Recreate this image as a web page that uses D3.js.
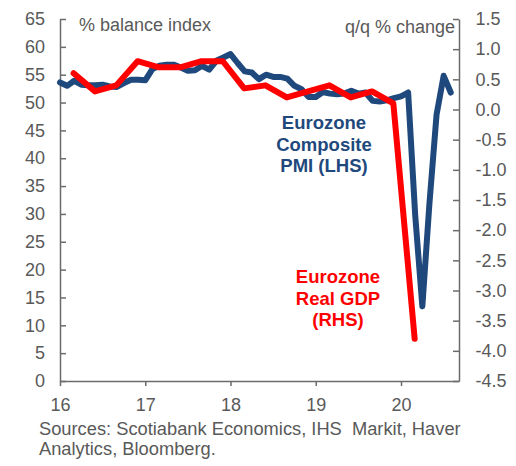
<!DOCTYPE html>
<html>
<head>
<meta charset="utf-8">
<script src="https://cdn.jsdelivr.net/npm/d3@7"></script>
<style>
  body { margin: 0; background: #fff; }
  svg { font-family: Arial, "Liberation Sans", sans-serif; }
  .axis path, .axis line { stroke: #6b6b6b; stroke-width: 1.5; }
  .axis text { fill: #595959; font-size: 18px; }
</style>
</head>
<body>
<div id="chart"></div>
<script>
// Eurozone composite PMI (monthly, LHS) vs real GDP q/q (quarterly, RHS)

const pmiStart = 2016; // Jan 2016, one value per month
const pmi = [
  53.6, 53.0, 53.9, 53.2, 53.1, 53.1, 53.2, 52.9, 52.8, 53.5, 54.1, 54.1,
  54.0, 56.0, 56.6, 56.8, 56.8, 56.3, 55.7, 55.8, 56.6, 55.9, 57.5, 58.1,
  58.7, 57.1, 55.6, 55.4, 54.2, 55.0, 54.6, 54.6, 54.3, 53.0, 52.4, 51.0,
  51.0, 51.9, 51.6, 51.5, 51.6, 52.1, 51.6, 51.8, 50.3, 50.2, 50.4, 50.8,
  51.1, 51.8, 29.7, 13.4, 31.9, 47.8, 54.8, 51.8
];

const gdpStart = 2016; // Q1 2016, one value per quarter
const gdp = [
  0.6, 0.3, 0.4, 0.8,
  0.7, 0.7, 0.8, 0.8,
  0.35, 0.4, 0.2, 0.3,
  0.4, 0.2, 0.3, 0.1,
  -3.8
];

const xTicks = [2016, 2017, 2018, 2019, 2020];
const leftTicks = [0, 5, 10, 15, 20, 25, 30, 35, 40, 45, 50, 55, 60, 65];
const rightTicks = [-4.5, -4.0, -3.5, -3.0, -2.5, -2.0, -1.5, -1.0, -0.5, 0.0, 0.5, 1.0, 1.5];

const pmiLabel = ['Eurozone', 'Composite', 'PMI (LHS)'];
const gdpLabel = ['Eurozone', 'Real GDP', '(RHS)'];
const sources = ['Sources: Scotiabank Economics, IHS\u00a0 Markit, Haver', 'Analytics, Bloomberg.'];

const W = 516, H = 466;
const m = { left: 60, right: 57, top: 19, bottom: 85 };

const svg = d3.select('#chart').append('svg').attr('width', W).attr('height', H);

const x = d3.scaleLinear().domain([2016, 2020.68]).range([m.left, W - m.right]);
const yL = d3.scaleLinear().domain([0, 65]).range([H - m.bottom, m.top]);
const yR = d3.scaleLinear().domain([-4.5, 1.5]).range([H - m.bottom, m.top]);

const pmiPts = pmi.map((v, i) => ({ t: pmiStart + i / 12, v }));
const gdpPts = gdp.map((v, i) => ({ t: gdpStart + i / 4 + 0.16, v }));

// axes
svg.append('g').attr('class', 'axis')
  .attr('transform', `translate(0,${H - m.bottom})`)
  .call(d3.axisBottom(x).tickValues(xTicks).tickFormat(d => String(d).slice(2))
    .tickSize(5).tickSizeOuter(0).tickPadding(12));

svg.append('g').attr('class', 'axis')
  .attr('transform', `translate(${m.left},0)`)
  .call(d3.axisLeft(yL).tickValues(leftTicks).tickSize(-6).tickSizeOuter(0).tickPadding(15));

svg.append('g').attr('class', 'axis')
  .attr('transform', `translate(${W - m.right},0)`)
  .call(d3.axisRight(yR).tickValues(rightTicks).tickFormat(d3.format('.1f'))
    .tickSize(-6).tickSizeOuter(0).tickPadding(16.5));

svg.selectAll('.axis text').filter(function () { return this.textContent.startsWith('−'); })
  .text(function () { return this.textContent.replace('−', '-'); });

// lines
svg.append('path').datum(pmiPts)
  .attr('fill', 'none').attr('stroke', '#1f497d').attr('stroke-width', 6)
  .attr('stroke-linejoin', 'round').attr('stroke-linecap', 'round')
  .attr('d', d3.line().x(d => x(d.t)).y(d => yL(d.v)));

svg.append('path').datum(gdpPts)
  .attr('fill', 'none').attr('stroke', '#ff0000').attr('stroke-width', 6)
  .attr('stroke-linejoin', 'round').attr('stroke-linecap', 'round')
  .attr('d', d3.line().x(d => x(d.t)).y(d => yR(d.v)));

// axis titles
svg.append('text').attr('x', 79).attr('y', 31)
  .attr('fill', '#595959').attr('font-size', 18).text('% balance index');
svg.append('text').attr('x', 455).attr('y', 33).attr('text-anchor', 'end')
  .attr('fill', '#595959').attr('font-size', 18).text('q/q % change');

// series labels
const lbl = (lines, cx, y0, color) => {
  svg.append('text').attr('text-anchor', 'middle').attr('font-weight', 'bold')
    .attr('font-size', 18.5).attr('fill', color)
    .selectAll('tspan').data(lines).join('tspan')
    .attr('x', cx).attr('y', (d, i) => y0 + i * 21.7).text(d => d);
};
lbl(pmiLabel, 324, 129, '#1f497d');
lbl(gdpLabel, 338, 283, '#ff0000');

// sources
svg.append('text').attr('fill', '#595959').attr('font-size', 18.3)
  .selectAll('tspan').data(sources).join('tspan')
  .attr('x', 39).attr('y', (d, i) => 435 + i * 20).text(d => d);
</script>
</body>
</html>
